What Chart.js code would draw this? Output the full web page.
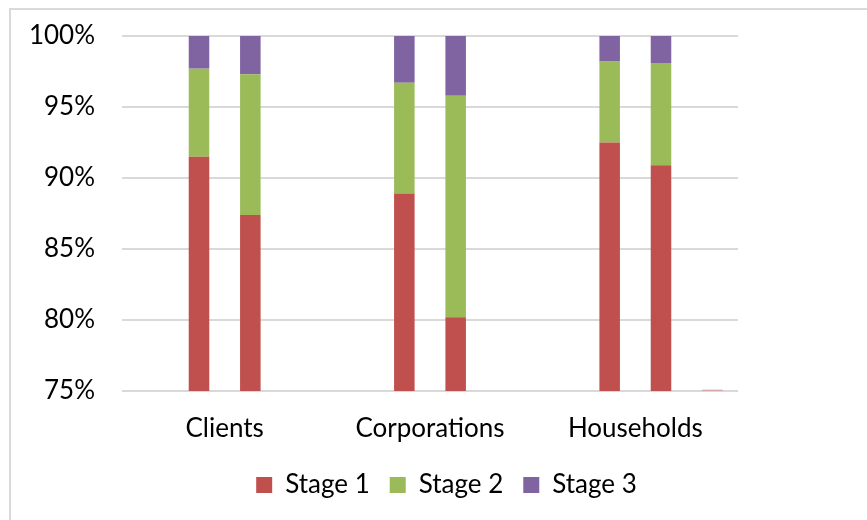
<!DOCTYPE html>
<html>
<head>
<meta charset="utf-8">
<script src="https://cdn.jsdelivr.net/npm/chart.js@4"></script>
<style>
    html, body { margin: 0; padding: 0; background: #fff; }
    #wrap { position: relative; width: 867px; height: 520px; overflow: hidden; }
    #frame { position: absolute; left: 9px; top: 8px; width: 900px; height: 600px;
             border-left: 2px solid #d9d9d9; border-top: 2px solid #d9d9d9; }
    #chart { position: absolute; left: 0; top: 0; }
</style>
</head>
<body>
<div id="wrap">
    <div id="frame"></div>
    <canvas id="chart" width="867" height="520"></canvas>
</div>
<script>
// categories and tick labels
const categories = ['Clients', 'Corporations', 'Households'];
const yTicks = [75, 80, 85, 90, 95, 100];

// first bar of each group (%)
const stage1First = [91.5, 88.9, 92.5];
const stage2First = [6.2, 7.8, 5.7];
const stage3First = [2.3, 3.3, 1.8];

// second bar of each group (%)
const stage1Second = [87.4, 80.2, 90.9];
const stage2Second = [9.9, 15.6, 7.2];
const stage3Second = [2.7, 4.2, 1.9];

// empty slots around the bars (only households has a sliver in the last one)
const emptySlot = [null, null, null];
const stage1Third = [null, null, 75.1];

const RED = '#c0504d', GREEN = '#9bbb59', PURPLE = '#8064a2';
const FONT = 'Lato, "Noto Sans", sans-serif';

const ctx = document.getElementById('chart');
new Chart(ctx, {
    type: 'bar',
    data: {
        labels: categories,
        datasets: [
            { label: '', data: emptySlot, stack: 'a', backgroundColor: RED },
            { label: 'Stage 1', data: stage1First, stack: 'b', backgroundColor: RED },
            { label: 'Stage 2', data: stage2First, stack: 'b', backgroundColor: GREEN },
            { label: 'Stage 3', data: stage3First, stack: 'b', backgroundColor: PURPLE },
            { label: 'Stage 1', data: stage1Second, stack: 'c', backgroundColor: RED },
            { label: 'Stage 2', data: stage2Second, stack: 'c', backgroundColor: GREEN },
            { label: 'Stage 3', data: stage3Second, stack: 'c', backgroundColor: PURPLE },
            { label: 'Stage 1', data: stage1Third, stack: 'd', backgroundColor: 'rgba(192, 80, 77, 0.35)' }
        ]
    },
    options: {
        responsive: false,
        animation: false,
        categoryPercentage: 1,
        barPercentage: 0.4,
        layout: { padding: { left: 26, right: 0, top: 36, bottom: 12 } },
        plugins: {
            tooltip: { enabled: false },
            legend: {
                position: 'bottom',
                labels: {
                    filter: item => item.datasetIndex >= 1 && item.datasetIndex <= 3,
                    boxWidth: 16,
                    boxHeight: 16,
                    padding: 20,
                    color: '#000',
                    font: { family: FONT, size: 26 }
                }
            }
        },
        scales: {
            x: {
                stacked: true,
                grid: { display: false, drawTicks: false },
                border: { display: false },
                ticks: { color: '#000', padding: 22, font: { family: FONT, size: 26 } },
                afterFit: s => { s.height = 61; }
            },
            y: {
                stacked: true,
                min: 75,
                max: 100,
                afterBuildTicks: s => { s.ticks = yTicks.map(v => ({ value: v })); },
                grid: { color: '#d9d9d9', lineWidth: 2, drawTicks: false },
                border: { display: false },
                ticks: {
                    color: '#000',
                    padding: 27,
                    font: { family: FONT, size: 26 },
                    callback: v => v + '%'
                },
                afterFit: s => { s.width = 96; s.paddingTop = 0; s.paddingBottom = 0; }
            },
            // blank right margin so the legend centres like the original
            yRight: {
                position: 'right',
                grid: { display: false, drawTicks: false },
                border: { display: false },
                ticks: { display: false },
                afterFit: s => { s.width = 129; s.paddingTop = 0; s.paddingBottom = 0; }
            }
        }
    }
});
</script>
</body>
</html>
